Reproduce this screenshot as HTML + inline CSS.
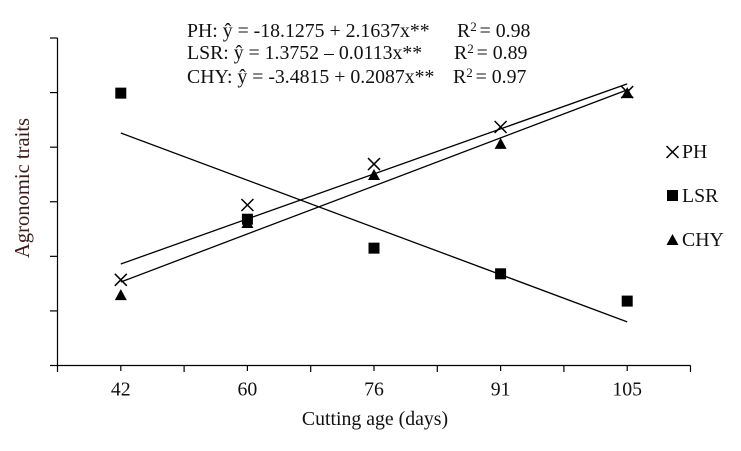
<!DOCTYPE html>
<html lang="en">
<head>
<meta charset="utf-8">
<title>Agronomic traits vs cutting age</title>
<style>
html,body{margin:0;padding:0;background:#fff;width:741px;height:451px;overflow:hidden}
svg{display:block}
text{font-family:"Liberation Serif","Times New Roman",serif;fill:#111;font-size:19.8px}
</style>
</head>
<body>
<svg id="chart" width="741" height="451" viewBox="0 0 741 451" xmlns="http://www.w3.org/2000/svg">
  <g id="equations">
    <text x="187" y="37">PH: ŷ = -18.1275 + 2.1637x**</text>
    <text x="457" y="37">R<tspan dy="-6" font-size="13">2</tspan><tspan dy="6" dx="-2"> = 0.98</tspan></text>
    <text x="187" y="59">LSR: ŷ = 1.3752 – 0.0113x**</text>
    <text x="454" y="59">R<tspan dy="-6" font-size="13">2</tspan><tspan dy="6" dx="-2"> = 0.89</tspan></text>
    <text x="187" y="83">CHY: ŷ = -3.4815 + 0.2087x**</text>
    <text x="453" y="83">R<tspan dy="-6" font-size="13">2</tspan><tspan dy="6" dx="-2"> = 0.97</tspan></text>
  </g>
  <text x="0" y="0" transform="translate(29 188) rotate(-90)" text-anchor="middle" style="fill:#3d1a1a;font-size:20.6px">Agronomic traits</text>
  <text x="375" y="425" text-anchor="middle">Cutting age (days)</text>
  <g id="axes-group"></g>
  <g id="lines-group"></g>
  <g id="marks-group"></g>
  <g id="legend-group"></g>
</svg>
<script>
const categories = ['42', '60', '76', '91', '105'];
const yTicks = [0, 1, 2, 3, 4, 5, 6];
const phValues = [1.57, 2.94, 3.69, 4.37, 5.01];
const lsrValues = [4.99, 2.68, 2.15, 1.68, 1.18];
const chyValues = [1.29, 2.61, 3.49, 4.06, 4.99];
const phFit = [1.86, 5.16];
const lsrFit = [4.26, 0.80];
const chyFit = [1.53, 5.05];

const NS = 'http://www.w3.org/2000/svg';
const plotLeft = 57.5, plotRight = 690.5, plotBottom = 365.5, plotTop = 38;
const bandWidth = (plotRight - plotLeft) / categories.length;
function xPos(i) { return plotLeft + bandWidth * (i + 0.5); }
function yPos(v) { return plotBottom - (plotBottom - plotTop) * v / 6; }

function make(parent, tag, attrs, text) {
  const el = document.createElementNS(NS, tag);
  for (const k in attrs) el.setAttribute(k, attrs[k]);
  if (text !== undefined) el.textContent = text;
  parent.appendChild(el);
  return el;
}
function seg(parent, x1, y1, x2, y2, w) {
  return make(parent, 'line', { x1: x1, y1: y1, x2: x2, y2: y2, stroke: '#000', 'stroke-width': w || 1.2 });
}
function drawCross(parent, x, y) {
  const g = make(parent, 'g', {});
  seg(g, x - 6, y - 6, x + 6, y + 6, 1.5);
  seg(g, x - 6, y + 6, x + 6, y - 6, 1.5);
  return g;
}
function drawSquare(parent, x, y) {
  return make(parent, 'rect', { x: x - 5.5, y: y - 5.5, width: 11, height: 11, fill: '#000' });
}
function drawTriangle(parent, x, y) {
  return make(parent, 'polygon', { points: (x) + ',' + (y - 6) + ' ' + (x + 6) + ',' + (y + 5) + ' ' + (x - 6) + ',' + (y + 5), fill: '#000' });
}

const axesGroup = document.getElementById('axes-group');
const yAxis = seg(axesGroup, plotLeft, plotTop, plotLeft, plotBottom);


const xAxis = seg(axesGroup, plotLeft, plotBottom, plotRight, plotBottom);



yTicks.forEach(function (t) {
  const tick = seg(axesGroup, 50, yPos(t), plotLeft, yPos(t));
  
  
});
for (let i = 0; i <= categories.length; i++) {
  const x = plotLeft + bandWidth * i;
  const tick = seg(axesGroup, x, plotBottom, x, 372);
  
  
}
categories.forEach(function (c, i) {
  const tick = seg(axesGroup, xPos(i), plotBottom, xPos(i), 371);
  
  
  const label = make(axesGroup, 'text', { x: xPos(i), y: 395.5, 'text-anchor': 'middle' }, c);
  
  
});

const linesGroup = document.getElementById('lines-group');
const lastIndex = categories.length - 1;
const phLine = seg(linesGroup, xPos(0), yPos(phFit[0]), xPos(lastIndex), yPos(phFit[1]), 1.3);


const lsrLine = seg(linesGroup, xPos(0), yPos(lsrFit[0]), xPos(lastIndex), yPos(lsrFit[1]), 1.3);


const chyLine = seg(linesGroup, xPos(0), yPos(chyFit[0]), xPos(lastIndex), yPos(chyFit[1]), 1.3);



const marksGroup = document.getElementById('marks-group');
phValues.forEach(function (v, i) {
  const m = drawCross(marksGroup, xPos(i), yPos(v));
  
  
});
chyValues.forEach(function (v, i) {
  const m = drawTriangle(marksGroup, xPos(i), yPos(v));
  
  
});
lsrValues.forEach(function (v, i) {
  const m = drawSquare(marksGroup, xPos(i), yPos(v));
  
  
});

const legendGroup = document.getElementById('legend-group');
const legendPh = drawCross(legendGroup, 672.5, 152);


const legendLsr = drawSquare(legendGroup, 672.5, 195.5);


const legendChy = drawTriangle(legendGroup, 672.5, 240);


const legendPhText = make(legendGroup, 'text', { x: 682, y: 158 }, 'PH');


const legendLsrText = make(legendGroup, 'text', { x: 682, y: 202 }, 'LSR');


const legendChyText = make(legendGroup, 'text', { x: 682, y: 246 }, 'CHY');


</script>
</body>
</html>
